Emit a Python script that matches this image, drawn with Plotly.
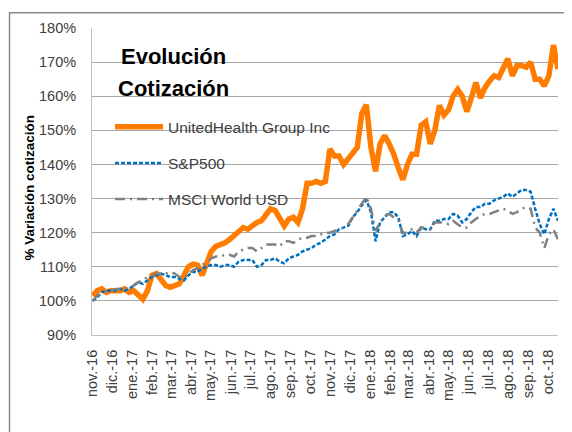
import pandas as pd
import plotly.graph_objects as go

# ---- data (weekly readings, % of start value) ----
start_date = "2016-11-01"
n_points = 103
unh = [101.5, 103, 103.5, 102.5, 103, 103, 103, 103.5, 102.5, 103,
       101.5, 100.5, 103, 107.5, 108, 106, 104.5, 104, 104.5, 105,
       107.5, 110, 110.8, 110.5, 107.5, 111.5, 114.5, 116, 116.5, 117,
       118, 119, 120, 121.5, 121, 122, 123, 123.5, 125, 127,
       126.5, 124, 122, 124, 124.5, 123, 127, 134.5, 134.5, 135,
       134.5, 135, 144.5, 142.5, 142.5, 140, 141.5, 143, 145, 155,
       157.5, 145, 138, 146, 148.5, 146, 143, 139, 135.5, 140,
       143, 143, 151.5, 152.5, 146, 150, 157.3, 154.5, 156, 160,
       162, 160, 155.5, 159.5, 164, 159.5, 162.5, 164.5, 166, 165.5,
       168.5, 171, 166, 169, 169, 168.5, 170, 165, 165, 163,
       166, 175, 168]
sp500 = [100, 101, 102.5, 103, 103, 103, 103.5, 103, 103.5, 104.5,
         105.5, 105, 106, 107, 107.5, 108, 107.5, 107, 107, 106.5,
         106, 107.5, 108.5, 108.5, 109.5, 110, 110.5, 110.5, 110, 110.5,
         110.5, 110, 111.5, 112, 112, 112, 110, 110.5, 112, 112,
         112.5, 111.5, 111, 112.5, 113, 113.5, 114.5, 115, 115.5, 116.5,
         117, 118, 119, 119.5, 121, 121.5, 122, 124.5, 126, 128,
         129.5, 126, 117.5, 123, 124.5, 126, 126, 124.5, 119, 119.5,
         120.5, 119, 121.5, 121, 121, 123.5, 123.5, 124, 124, 125.5,
         125, 123, 124, 126, 127.5, 127.5, 128.5, 128.5, 129.5, 130,
         130.5, 131.5, 130.5, 131.5, 132.5, 132.5, 132, 127, 122.5, 119.5,
         124, 127, 123.5]
msci = [100, 101.5, 102.5, 103, 103, 103.5, 103.5, 103.5, 104, 104.5,
        105.5, 106, 107, 107.5, 108, 108, 108, 108.5, 108, 107,
        106.5, 108, 109, 109.5, 110.5, 111.5, 112.5, 113, 113, 113.5,
        113.5, 113, 114.5, 115, 115.5, 115.5, 114.5, 115.5, 116.5, 116.5,
        116.5, 116, 117.5, 117.5, 117, 118, 118.5, 118.5, 119, 119,
        119.5, 120, 120, 120.5, 121, 121.5, 122.5, 124.5, 126.5, 128.5,
        130.5, 127, 120.5, 123, 125, 125.5, 124.5, 123.5, 120, 120,
        121, 120, 121.5, 121.5, 121, 123, 123, 123, 122.5, 123.5,
        122.5, 121.5, 121.5, 123, 124, 125, 125.5, 125.5, 126, 126.5,
        127, 126.5, 125.5, 126, 127, 127.5, 127, 121.5, 120, 115.5,
        119.5, 121, 118]
series_names = ["UnitedHealth Group Inc", "S&P500", "MSCI World USD"]
month_labels = ["nov.-16", "dic.-16", "ene.-17", "feb.-17", "mar.-17", "abr.-17",
                "may.-17", "jun.-17", "jul.-17", "ago.-17", "sep.-17", "oct.-17",
                "nov.-17", "dic.-17", "ene.-18", "feb.-18", "mar.-18", "abr.-18",
                "may.-18", "jun.-18", "jul.-18", "ago.-18", "sep.-18", "oct.-18"]
title_lines = ["Evolución", "Cotización"]
y_title = "% Variación cotización"

dates = pd.date_range(start_date, periods=n_points, freq="7D")
month_dates = pd.date_range(start_date, periods=len(month_labels), freq="MS")

FONT = "Liberation Sans"
TXT = "#404040"

# plot area in page pixels (page body has an 8px margin)
PL, PR, PT, PB = 92, 558, 25, 335
PW, PH = PR - PL, PB - PT


def px(x):
    return (x - PL) / PW


def py(y):
    return (PB - y) / PH


fig = go.Figure()
fig.add_trace(go.Scatter(x=dates, y=unh, mode="lines", name=series_names[0],
                         legendgroup="a",
                         line=dict(color="#FF7C00", width=5.5)))
fig.add_trace(go.Scatter(x=dates, y=sp500, mode="lines", name=series_names[1],
                         legendgroup="b",
                         line=dict(color="#0070C0", width=2.5, dash="4px,2px")))
fig.add_trace(go.Scatter(x=dates, y=msci, mode="lines", name=series_names[2],
                         legendgroup="c",
                         line=dict(color="#808080", width=2.5, dash="10px,5px,2px,5px")))

fig.update_layout(
    width=564, height=424, autosize=False,
    margin=dict(l=PL - 8, r=572 - PR, t=PT - 8, b=432 - PB),
    paper_bgcolor="white", plot_bgcolor="white",
    font=dict(family=FONT, color=TXT, size=14),
    showlegend=True,
    legend=dict(x=px(110), y=py(108), xanchor="left", yanchor="top",
                bgcolor="rgba(0,0,0,0)", font=dict(size=15.5, color=TXT),
                tracegroupgap=13, itemwidth=48),
    xaxis=dict(type="date", range=["2016-10-31", "2018-10-16"],
               tickvals=month_dates, ticktext=month_labels, tickangle=-90,
               showgrid=False, showline=True, linecolor="#BFBFBF", linewidth=1,
               ticks="", tickfont=dict(size=14.5, color=TXT), ticklabelstandoff=8),
    yaxis=dict(range=[90, 180], dtick=10, ticksuffix="%",
               showgrid=True, gridcolor="#A6A6A6", gridwidth=1,
               showline=True, linecolor="#BFBFBF", linewidth=1, zeroline=False,
               ticks="", tickfont=dict(size=14.5, color=TXT), ticklabelstandoff=12),
)

# title lines inside plot
fig.add_annotation(x=px(173), y=py(54), xref="paper", yref="paper",
                   text="<b>%s</b>" % title_lines[0], showarrow=False,
                   xanchor="center", yanchor="middle",
                   font=dict(size=22, color="black", family=FONT))
fig.add_annotation(x=px(173), y=py(86), xref="paper", yref="paper",
                   text="<b>%s</b>" % title_lines[1], showarrow=False,
                   xanchor="center", yanchor="middle",
                   font=dict(size=22, color="black", family=FONT))
# y axis title
fig.add_annotation(x=px(29), y=py(186), xref="paper", yref="paper",
                   text="<b>%s</b>" % y_title, showarrow=False, textangle=-90,
                   xanchor="center", yanchor="middle",
                   font=dict(size=13.5, color="black", family=FONT))
# outer chart border
fig.add_shape(type="rect", xref="paper", yref="paper",
              x0=px(9.5), x1=px(580), y0=py(440), y1=py(9.5),
              line=dict(color="#8C8C8C", width=1.5), fillcolor="rgba(0,0,0,0)",
              layer="above")

fig.write_html("out.html")
